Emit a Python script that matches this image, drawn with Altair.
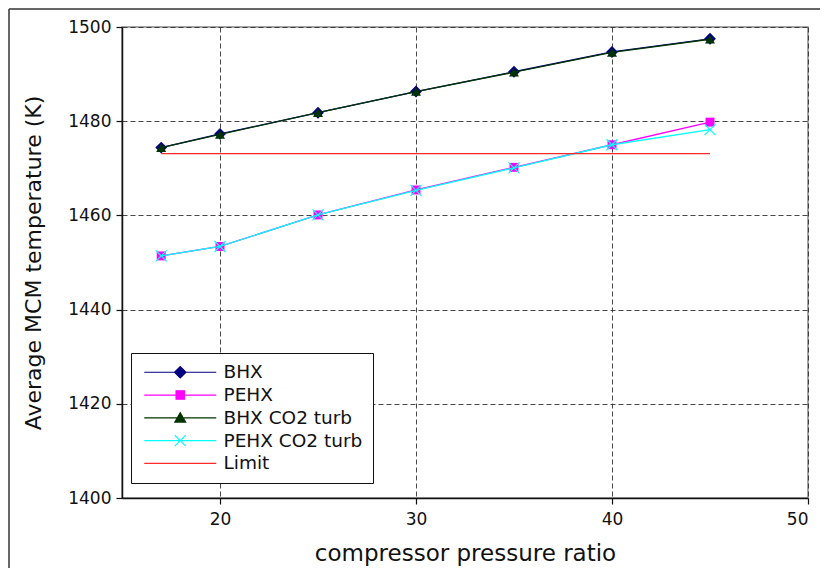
import altair as alt
import pandas as pd

# ---- data ----
x_ratio = [17, 20, 25, 30, 35, 40, 45]
bhx = [1474.4, 1477.3, 1481.8, 1486.3, 1490.5, 1494.7, 1497.5]
pehx = [1451.4, 1453.4, 1460.1, 1465.4, 1470.2, 1475.0, 1479.8]
bhx_co2 = [1474.4, 1477.2, 1481.8, 1486.3, 1490.4, 1494.6, 1497.4]
pehx_co2 = [1451.4, 1453.4, 1460.1, 1465.3, 1470.1, 1475.0, 1478.2]
limit_x = [17, 45]
limit_y = [1473.1, 1473.1]

series_names = ["BHX", "PEHX", "BHX CO2 turb", "PEHX CO2 turb", "Limit"]
series_colors = ["#000080", "#ff00ff", "#003300", "#00ffff", "#ff2a2a"]
x_ticks = [20, 30, 40, 50]
y_ticks = [1400, 1420, 1440, 1460, 1480, 1500]

FONT = "DejaVu Sans"
W, H = 686, 471

rows = []
for name, ys in zip(series_names[:4], [bhx, pehx, bhx_co2, pehx_co2]):
    for xv, yv in zip(x_ratio, ys):
        rows.append({"series": name, "x": xv, "y": yv})
for xv, yv in zip(limit_x, limit_y):
    rows.append({"series": "Limit", "x": xv, "y": yv})
df = pd.DataFrame(rows)

xs = alt.Scale(domain=[15, 50], nice=False, zero=False)
ys_ = alt.Scale(domain=[1400, 1500], nice=False, zero=False)

X = alt.X("x:Q", scale=xs, title="compressor pressure ratio",
          axis=alt.Axis(values=x_ticks, format="d", titlePadding=15, labelPadding=7,
                        titleFontSize=23))
Y = alt.Y("y:Q", scale=ys_, title="Average MCM temperature (K)",
          axis=alt.Axis(values=y_ticks, format="d", titlePadding=22, titleFontSize=22))

marker = {
    "BHX": dict(shape="diamond", size=140, filled=True),
    "PEHX": dict(shape="square", size=80, filled=True),
    "BHX CO2 turb": dict(shape="triangle-up", size=100, filled=True),
    "PEHX CO2 turb": dict(shape="M-1,-1L1,1M-1,1L1,-1", size=121, filled=False),
}

layers = []
for name, col in zip(series_names, series_colors):
    sub = alt.Chart(df).transform_filter(alt.datum.series == name)
    layers.append(sub.mark_line(color=col, strokeWidth=1.3).encode(x=X, y=Y))
    if name in marker:
        m = marker[name]
        layers.append(sub.mark_point(shape=m["shape"], size=m["size"], filled=m["filled"],
                                     color=col, opacity=1, strokeWidth=1.2).encode(x=X, y=Y))

# legend-only layer (no visible marks): custom symbols with line + marker
legend_paths = [
    "M-1,0H11M5,-0.95L5.95,0L5,0.95L4.05,0Z",
    "M-1,0H11M4.3,-0.7H5.7V0.7H4.3Z",
    "M-1,0H11M5,-0.85L5.9,0.7L4.1,0.7Z",
    "M-1,0H11M4.08,-0.92L5.92,0.92M4.08,0.92L5.92,-0.92",
    "M-1,0H11",
]
leg = alt.Legend(title=None, orient="none", legendX=9, legendY=326,
                 symbolSize=144, symbolStrokeWidth=1.2, symbolOffset=0, symbolOpacity=1,
                 labelOffset=64, labelFont=FONT, labelFontSize=18.5, labelColor="#111",
                 padding=10, rowPadding=3.8, fillColor="white", strokeColor="#111",
                 cornerRadius=0)
legend_layer = alt.Chart(df).transform_filter("datum.x > 1000").mark_point(
    filled=False, opacity=1, fillOpacity=1, strokeOpacity=1).encode(
    x=X, y=Y,
    fill=alt.Fill("series:N", scale=alt.Scale(domain=series_names, range=series_colors), legend=leg),
    stroke=alt.Stroke("series:N", scale=alt.Scale(domain=series_names, range=series_colors), legend=leg),
    shape=alt.Shape("series:N", scale=alt.Scale(domain=series_names, range=legend_paths), legend=leg),
)

# outer figure frame
frame_df = pd.DataFrame({"k": [0]})
frame_v = alt.Chart(frame_df).mark_rule(color="#333", strokeWidth=1.5).encode(
    x=alt.value(-113), y=alt.value(-18), y2=alt.value(H + 80))
frame_h = alt.Chart(frame_df).mark_rule(color="#333", strokeWidth=1.5).encode(
    y=alt.value(-18), x=alt.value(-113), x2=alt.value(W + 40))

chart = alt.layer(*layers, legend_layer, frame_v, frame_h).properties(
    width=W, height=H,
    autosize=alt.AutoSizeParams(type="none"),
    padding={"left": 114, "top": 19, "right": 12, "bottom": 70},
).configure_view(stroke="#888", strokeWidth=1.5).configure_axis(
    labelFont=FONT, labelFontSize=17, labelColor="#111",
    titleFont=FONT, titleFontWeight="normal", titleColor="#111",
    domainColor="#111", domainWidth=1.5, tickColor="#111", tickSize=6, tickWidth=1.2,
    labelPadding=5, grid=True, gridColor="#333", gridDash=[5, 3], gridWidth=1,
    gridOpacity=0.9,
)

chart.save("out.html", embed_options={"renderer": "svg", "actions": False})
